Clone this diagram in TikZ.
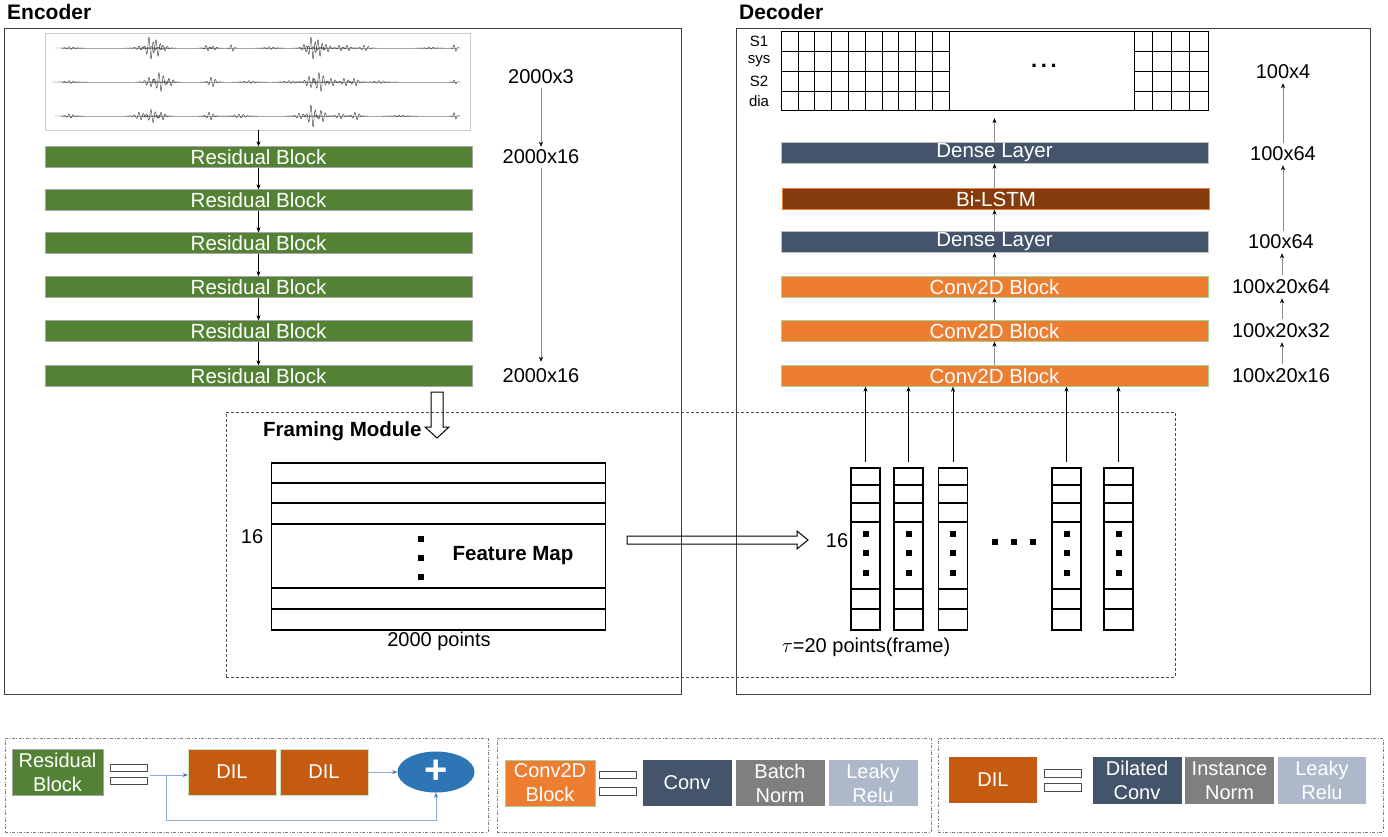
\documentclass[tikz,border=0pt]{standalone}
\usepackage{fontspec}
\setmainfont{Liberation Sans}
\usetikzlibrary{arrows.meta,shapes.geometric}

\definecolor{resgreen}{HTML}{548235}
\definecolor{densecol}{HTML}{44546A}
\definecolor{lstmcol}{HTML}{843C0C}
\definecolor{convcol}{HTML}{ED7D31}
\definecolor{convedge}{HTML}{A9D18E}
\definecolor{dilcol}{HTML}{C55A11}
\definecolor{pluscol}{HTML}{2E75B6}
\definecolor{normcol}{HTML}{7F7F7F}
\definecolor{relucol}{HTML}{ADB9CA}
\definecolor{legline}{HTML}{8FAADC}
\definecolor{legtip}{HTML}{4472C4}

\begin{document}
\begin{tikzpicture}[x=1pt, y=-1pt, >={Stealth[length=5pt,width=4pt]},
    txt/.style={font=\fontsize{20}{24}\selectfont, inner sep=1pt},
    head/.style={font=\fontsize{21}{24}\selectfont\bfseries, inner sep=0pt},
    small/.style={font=\fontsize{15}{16}\selectfont, inner sep=0pt},
    layer/.style={minimum width=427, minimum height=21, inner sep=0pt, text=white, font=\fontsize{20.5}{22}\selectfont},
    resblock/.style={layer, fill=resgreen, draw=gray!70},
    dense/.style={layer, fill=densecol, draw=gray!50},
    lstm/.style={layer, fill=lstmcol, draw=convcol},
    convblock/.style={layer, fill=convcol, draw=convedge},
    legbox/.style={minimum height=46, inner sep=0pt, text=white, align=center, font=\fontsize{20}{24}\selectfont},
    eqbar/.style={draw=black!70, minimum width=37, minimum height=7, inner sep=0pt},
    wave/.style={black!75, line width=0.45pt},
    dimarrow/.style={draw=black!45, -{Stealth[length=5pt,width=4pt,color=black]}},
    legarrow/.style={draw=legline, line width=0.8pt, -{Stealth[length=5pt,width=4pt,color=legtip]}},
    outline/.style={draw=black!75, line width=0.8pt, inner sep=0pt},
    sqdot/.style={fill, inner sep=0pt, minimum size=6}]
    \useasboundingbox (0,0) rectangle (1388,836);

    % Encoder
    \node[head, anchor=west] (enclabel) at (7,12) {Encoder};
    \node[outline, minimum width=677, minimum height=666] (enc) at (342.5,361) {};

    \node[draw=gray!40, minimum width=425, minimum height=97, inner sep=0pt] (wave) at (257.5,81.5) {};
    \foreach \y in {48,82,116}
        \draw[black!35, line width=0.4pt] (62,\y) -- (457,\y);
    \foreach \cx/\amp/\wd in {70/1.5/5, 140/2/5, 150/12/4, 157/9/4, 164/3/4, 207/3/3, 214/2/3, 232/4/2, 270/1.5/5,
            305/4/4, 312/12/4, 319/9/4, 327/4/4, 340/3/3, 348/3/3, 365/3/4, 430/1/5, 455/4/2}
        \draw[wave] plot[domain=-3*\wd:3*\wd, samples=61] ({\cx+\x}, {48+\amp*exp(-(\x/\wd)*(\x/\wd))*sin(\x*80)});
    \foreach \cx/\amp/\wd in {70/1.5/6, 150/5/5, 160/10/5, 170/4/4, 212/5/4, 250/1.5/6, 290/1.5/6, 310/6/5,
            320/10/5, 332/4/4, 345/4/4, 355/4/4, 380/1.5/6, 455/2/2}
        \draw[wave] plot[domain=-3*\wd:3*\wd, samples=61] ({\cx+\x}, {82+\amp*exp(-(\x/\wd)*(\x/\wd))*sin(\x*80)});
    \foreach \cx/\amp/\wd in {70/2/5, 140/4/5, 152/7/5, 162/4/4, 210/4/4, 240/2/6, 300/3/5, 312/12/4, 322/6/4,
            340/3/4, 356/4/4, 400/1/6, 455/4/2}
        \draw[wave] plot[domain=-3*\wd:3*\wd, samples=61] ({\cx+\x}, {116+\amp*exp(-(\x/\wd)*(\x/\wd))*sin(\x*80)});

    \foreach \i/\y in {1/157, 2/200, 3/243, 4/287, 5/331, 6/376}
        \node[resblock] (r\i) at (258.5,\y) {Residual Block};
    \draw[->] (r1.north |- wave.south) -- (r1.north);
    \foreach \i [evaluate=\i as \j using int(\i+1)] in {1,...,5}
        \draw[->] (r\i) -- (r\j);

    \node[txt] (e3) at (541,77) {2000x3};
    \node[txt] (e16a) at (541,157) {2000x16};
    \node[txt] (e16b) at (541,376) {2000x16};
    \draw[dimarrow, shorten <=3pt, shorten >=2pt] (e3) -- (e16a);
    \draw[dimarrow, shorten <=3pt, shorten >=6pt] (e16a) -- (e16b);

    % Decoder
    \node[head, anchor=west] (declabel) at (739,12) {Decoder};
    \node[outline, minimum width=634, minimum height=666] (dec) at (1053,361) {};

    \node[draw, minimum width=427, minimum height=79, inner sep=0pt] (grid) at (994.5,70.5) {};
    \foreach \y in {51,71,91} {
        \draw (781,\y) -- (949,\y);
        \draw (1134,\y) -- (1208,\y);
    }
    \foreach \k in {1,...,10}
        \draw ({781+16.8*\k},31) -- ({781+16.8*\k},110);
    \foreach \k in {0,...,3}
        \draw ({1134+18.5*\k},31) -- ({1134+18.5*\k},110);
    \node[font=\fontsize{22}{24}\selectfont\bfseries] (gdots) at (1044,66) {.\,.\,.};
    \foreach \t/\y [count=\n] in {S1/41, sys/61, S2/81, dia/101}
        \node[small] (row\n) at (759,\y) {\t};

    \node[dense] (dense2) at (994.5,153) {Dense Layer};
    \node[lstm] (lstm) at (996,199) {Bi-LSTM};
    \node[dense] (dense1) at (994.5,242) {Dense Layer};
    \node[convblock] (conv3) at (994.5,287) {Conv2D Block};
    \node[convblock] (conv2) at (994.5,331) {Conv2D Block};
    \node[convblock] (conv1) at (994.5,376) {Conv2D Block};
    \draw[dimarrow] (conv1) -- (conv2);
    \draw[dimarrow] (conv2) -- (conv3);
    \draw[dimarrow] (conv3) -- (dense1);
    \draw[dimarrow] (dense1) -- (dense1 |- lstm.south);
    \draw[dimarrow] (lstm.north -| dense2) -- (dense2);
    \draw[dimarrow, shorten >=8pt] (dense2.north) -- (dense2.north |- grid.south);

    \node[txt] (k4) at (1283,72) {100x4};
    \node[txt] (k64a) at (1283,154) {100x64};
    \node[txt] (k64b) at (1281,242) {100x64};
    \node[txt] (k2064) at (1281,287) {100x20x64};
    \node[txt] (k2032) at (1281,331) {100x20x32};
    \node[txt] (k2016) at (1281,376) {100x20x16};
    \draw[dimarrow, shorten <=4pt, shorten >=3pt] (k2016.north -| 1282,0) -- (k2032.south -| 1282,0);
    \draw[dimarrow, shorten <=4pt, shorten >=3pt] (k2032.north -| 1282,0) -- (k2064.south -| 1282,0);
    \draw[dimarrow, shorten <=4pt, shorten >=3pt] (k2064.north -| 1282,0) -- (k64b.south -| 1282,0);
    \draw[dimarrow, shorten <=3pt, shorten >=3pt] (k64b.north -| 1283,0) -- (k64a.south -| 1283,0);
    \draw[dimarrow, shorten <=3pt, shorten >=3pt] (k64a.north -| 1283,0) -- (k4.south -| 1283,0);

    % Framing module
    \node[draw=black!70, dash pattern=on 3pt off 2pt, minimum width=949, minimum height=265, inner sep=0pt] (fmod) at (700.5,544.5) {};
    \node[head, font=\fontsize{20.5}{24}\selectfont\bfseries, anchor=west] (fmlabel) at (263,431) {Framing Module};
    \draw[line width=1pt] (431,392) -- (443,392) -- (443,427) -- (449,427) -- (437,438)
        -- (425,427) -- (431,427) -- cycle;

    \node[draw, line width=1.6pt, minimum width=334, minimum height=167, inner sep=0pt] (fmap) at (438.5,546.5) {};
    \foreach \y in {483,503,524,588,609}
        \draw[line width=1.6pt] (fmap.west |- 0,\y) -- (fmap.east |- 0,\y);
    \foreach \y [count=\n] in {539,558,577}
        \node[sqdot] (fd\n) at (421,\y) {};
    \node[head, font=\fontsize{20.5}{24}\selectfont\bfseries] (fmname) at (513,556) {Feature Map};
    \node[txt] (fm16) at (252,537) {16};
    \node[txt] (fmpts) at (439,641) {2000 points};

    \draw[line width=1pt] (627,536) -- (797,536) -- (797,531) -- (808,540) -- (797,549) -- (797,544)
        -- (627,544) -- cycle;

    \foreach \x [count=\i] in {865.5,908.5,953,1066.5,1118.5} {
        \node[draw, line width=1.6pt, minimum width=29, minimum height=162, inner sep=0pt] (col\i) at (\x,549) {};
        \foreach \y in {485,503,522,589,609}
            \draw[line width=1.6pt] (col\i.west |- 0,\y) -- (col\i.east |- 0,\y);
        \foreach \y [count=\n] in {534,553,573}
            \node[sqdot] (cd\i\n) at (\x,\y) {};
        \draw[->, shorten <=5pt] (col\i.north) -- (col\i.north |- conv1.south);
    }
    \foreach \x [count=\n] in {995,1014,1033}
        \node[sqdot] (hd\n) at (\x,542) {};
    \node[txt] (col16) at (837,541) {16};
    \node[txt] (tau) at (866,647) {$\tau$=20 points(frame)};

    % Legend
    \tikzset{legframe/.style={draw=gray, dash pattern=on 3pt off 1.5pt on 1pt off 1.5pt, minimum height=94, inner sep=0pt}}
    \node[legframe, minimum width=483] (leg1) at (246.5,785) {};
    \node[legframe, minimum width=434] (leg2) at (714,785) {};
    \node[legframe, minimum width=445] (leg3) at (1160.5,785) {};

    \node[legbox, fill=resgreen, draw=gray!70, minimum width=91] (lres) at (57.5,772) {Residual\\Block};
    \node[eqbar] (eq1a) at (128.5,767.5) {};
    \node[eqbar] (eq1b) at (128.5,781) {};
    \node[legbox, fill=dilcol, draw=convedge!60!white, minimum width=88] (dil1) at (232,772) {DIL};
    \node[legbox, fill=dilcol, draw=convedge!60!white, minimum width=88] (dil2) at (324,772) {DIL};
    \node[ellipse, fill=pluscol, minimum width=77, minimum height=41, inner sep=0pt, text=white,
        font=\fontsize{40}{40}\selectfont\bfseries] (plus) at (436,772) {+};
    \coordinate (resin) at (150,775);
    \coordinate (skip) at (166,775);
    \draw[legarrow] (resin) -- (dil1.west |- resin);
    \draw[legarrow] (dil2) -- (plus);
    \draw[legarrow] (skip) -- (166,820) -- (plus.south |- 0,820) -- (plus.south);

    \node[legbox, fill=convcol, draw=convedge, minimum width=90] (lconv2d) at (550,783) {Conv2D\\Block};
    \node[eqbar] (eq2a) at (618,774.5) {};
    \node[eqbar, minimum height=8] (eq2b) at (618,791) {};
    \node[legbox, fill=densecol, minimum width=89] (lconv) at (687,783) {Conv};
    \node[legbox, fill=normcol, minimum width=89] (lbn) at (780,783) {Batch\\Norm};
    \node[legbox, fill=relucol, minimum width=89] (lrelu) at (873,783) {Leaky\\Relu};

    \node[legbox, fill=dilcol, minimum width=88] (ldil) at (993,780) {DIL};
    \node[eqbar, minimum height=8] (eq3a) at (1063,773) {};
    \node[eqbar, minimum height=8] (eq3b) at (1063,787.5) {};
    \node[legbox, fill=densecol, minimum width=89, minimum height=47] (ldconv) at (1137,780.5) {Dilated\\Conv};
    \node[legbox, fill=normcol, minimum width=89, minimum height=47] (linorm) at (1229.5,780.5) {Instance\\Norm};
    \node[legbox, fill=relucol, minimum width=88, minimum height=47] (lrelu2) at (1322,780.5) {Leaky\\Relu};
\end{tikzpicture}
\end{document}
